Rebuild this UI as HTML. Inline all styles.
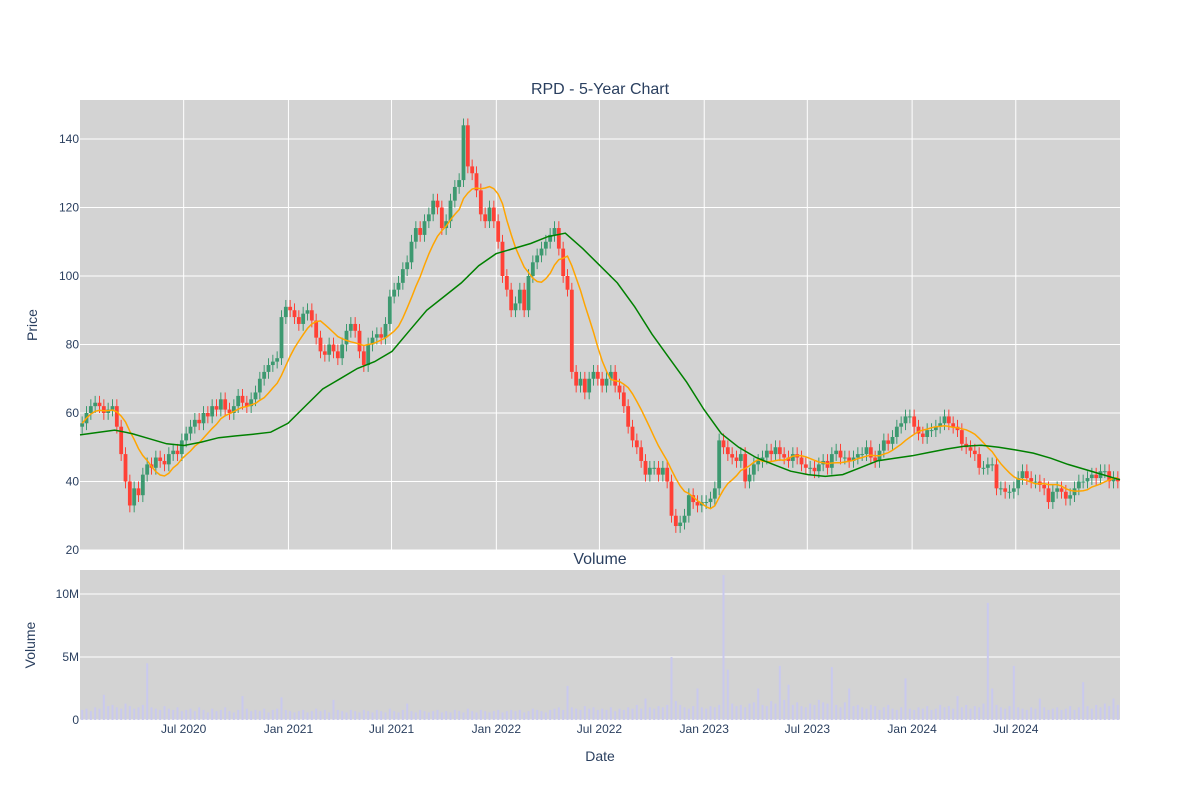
<!DOCTYPE html>
<html><head><meta charset="utf-8"><style>
html,body{margin:0;padding:0;background:#fff;}
svg{display:block;font-family:"Liberation Sans",sans-serif;}
</style></head><body>
<svg id="chart" width="1200" height="800" viewBox="0 0 1200 800" xmlns="http://www.w3.org/2000/svg">
<rect x="0" y="0" width="1200" height="800" fill="#fff"/>
<rect x="80" y="100" width="1040" height="450" fill="#d3d3d3"/>
<rect x="80" y="570" width="1040" height="150" fill="#d3d3d3"/>
<g id="grid"></g>
<g id="vol"></g>
<g id="candles"></g>
<g id="lines"></g>
<g id="axes" fill="#2a3f5f" font-size="12"></g>
<text x="600" y="94" text-anchor="middle" font-size="16" fill="#2a3f5f">RPD - 5-Year Chart</text>
<text x="600" y="564" text-anchor="middle" font-size="16" fill="#2a3f5f">Volume</text>
<text x="37" y="325" text-anchor="middle" font-size="14" fill="#2a3f5f" transform="rotate(-90 37 325)">Price</text>
<text x="35" y="645" text-anchor="middle" font-size="14" fill="#2a3f5f" transform="rotate(-90 35 645)">Volume</text>
<text x="600" y="761" text-anchor="middle" font-size="14" fill="#2a3f5f">Date</text>
</svg>
<script>
const closes = [
57,60,62,63, 62,60,61,62, 56,48,40,33, 38,36,42,45, 44,47,46,45, 48,49,48,52, 54,56,58,57, 60,59,62,61, 64,61,60,62, 65,63,62,64, 66,70,72,74, 75,76,88,91,
90,88,86,89, 90,87,82,78, 77,80,78,76, 80,84,86,84, 78,74,80,82, 83,82,86,94, 96,98,102,104, 110,114,112,116, 118,122,120,114, 116,122,126,128, 144,132,130,125, 118,116,120,116,
110,100,96,90, 92,96,90,100, 104,106,108,110, 112,114,108,100, 96,72,68,70, 66,70,72,70, 68,70,72,68, 66,62,56,52, 50,46,42,44, 44,42,44,40, 30,27,28,30, 36,34,33,34,
34,35,38,52, 50,48,47,46, 48,40,42,45, 46,47,49,48, 50,48,47,46, 48,47,45,44, 44,43,45,46, 44,48,49,47, 47,46,47,48, 48,50,47,46, 49,52,51,53, 56,57,59,59,
56,54,53,55, 55,56,57,59, 57,56,55,51, 50,49,48,44, 44,45,45,38, 38,37,37,38, 41,43,41,40, 40,39,38,34, 37,38,37,35, 36,38,40,40, 41,42,41,43, 43,40,41,40];
const firstOpen = 56;
const ma200 = [53.6,54.3,55,54,52.5,51,50.5,51.5,52.8,53.3,53.8,54.4,57,62,67,70,73,75,78,84,90,94,98,103,106.5,108,109.5,111.5,112.5,108,103,98,91,83,76,69,61,54,50,47,45,43,42,41.5,42,44,46,46.8,47.5,48.5,49.5,50.3,50.6,50,49.2,48.3,46.8,45,43.5,42,40.5];
const volumes = [
0.8,0.9,0.7,1.0,0.9,2.0,1.1,1.2,1.0,0.9,1.3,1.1,0.9,1.0,1.2,4.5,1.0,0.9,0.8,1.1,
0.9,0.8,1.0,0.7,0.8,0.9,0.7,1.0,0.8,0.6,0.9,0.7,0.8,1.0,0.7,0.6,0.8,1.9,0.9,0.7,
0.8,0.7,0.9,0.6,0.8,0.9,1.8,0.8,0.7,0.6,0.7,0.8,0.6,0.7,0.9,0.7,0.8,0.6,1.6,0.8,
0.7,0.6,0.8,0.7,0.6,0.8,0.7,0.6,0.8,0.7,0.6,0.9,0.7,0.6,0.8,1.3,0.7,0.6,0.8,0.7,
0.6,0.7,0.8,0.6,0.7,0.6,0.8,0.7,0.6,0.9,0.7,0.6,0.8,0.7,0.6,0.7,0.8,0.6,0.7,0.8,
0.7,0.8,0.6,0.7,0.9,0.8,0.7,0.6,0.8,0.9,1.0,0.8,2.7,1.0,0.9,0.8,1.1,0.9,1.0,0.8,
0.9,0.8,1.0,0.7,0.9,0.8,1.0,0.9,1.2,0.9,1.7,1.0,0.9,1.1,1.0,1.2,5.0,1.5,1.2,1.0,
0.9,1.1,2.5,1.0,0.9,1.1,1.0,1.2,11.5,4.0,1.3,1.1,1.2,1.0,1.3,1.4,2.5,1.2,1.1,1.5,
1.3,4.3,1.6,2.8,1.2,1.4,1.1,1.0,1.3,1.2,1.6,1.4,1.3,4.2,1.2,1.0,1.4,2.5,1.1,1.2,
1.0,0.9,1.2,1.1,0.8,1.0,1.2,0.9,0.8,1.0,3.3,0.9,0.8,1.0,0.9,1.1,0.8,0.9,1.2,1.0,
1.1,0.9,1.9,1.0,1.2,0.9,1.1,1.0,1.3,9.3,2.5,1.2,1.0,0.9,1.1,4.3,1.0,0.9,0.8,1.0,
0.9,1.7,1.0,0.8,0.9,1.0,0.8,0.9,1.1,0.8,1.0,3.0,1.1,0.9,1.2,1.0,1.3,1.1,1.7,1.2];
const priceTicks = [20,40,60,80,100,120,140];
const volTicks = [0,5,10];
const volTickLabels = ["0","5M","10M"];
const dateTicks = ["2020-07-01","2021-01-01","2021-07-01","2022-01-01","2022-07-01","2023-01-01","2023-07-01","2024-01-01","2024-07-01"];
const dateTickLabels = ["Jul 2020","Jan 2021","Jul 2021","Jan 2022","Jul 2022","Jan 2023","Jul 2023","Jan 2024","Jul 2024"];
const startDate = "2020-01-01", endDate = "2024-12-31";

const NS = "http://www.w3.org/2000/svg";
const t0 = Date.parse(startDate), t1 = Date.parse(endDate);
const xOf = t => 80 + (t - t0) / (t1 - t0) * 1040;
const yP = v => 550 - (v - 20) * 3.425;
const yV = v => 720 - v * 12.6;
const stepT = (t1 - t0) / closes.length;
const tOfIdx = i => t0 + (i + 0.5) * stepT;
function mk(tag, attrs, parent){const e=document.createElementNS(NS,tag);for(const k in attrs)e.setAttribute(k,attrs[k]);parent.appendChild(e);return e;}

const grid = document.getElementById('grid');
priceTicks.forEach(v=>{
  const l=mk('line',{x1:80,x2:1120,y1:yP(v),y2:yP(v),stroke:'#fff','stroke-width':1},grid);
  
  
});
volTicks.forEach(v=>{
  const l=mk('line',{x1:80,x2:1120,y1:yV(v),y2:yV(v),stroke:'#fff','stroke-width':1},grid);
  
  
});
dateTicks.forEach(d=>{
  const x=xOf(Date.parse(d));
  const l=mk('line',{x1:x,x2:x,y1:100,y2:550,stroke:'#fff','stroke-width':1},grid);
  
  
});

const vol = document.getElementById('vol');
volumes.forEach((v,i)=>{
  const x=xOf(tOfIdx(i));
  const r=mk('rect',{x:x-1,y:yV(v),width:2,height:720-yV(v),fill:'#c9c9ee'},vol);
  
  
});

const cg = document.getElementById('candles');
closes.forEach((c,i)=>{
  const o = i===0 ? firstOpen : closes[i-1];
  const x = xOf(tOfIdx(i));
  const up = c >= o;
  const col = up ? '#3D9970' : '#FF4136';
  const hi = Math.max(o,c)+2, lo = Math.min(o,c)-2;
  const g = mk('g',{},cg);
  
  
  mk('line',{x1:x,x2:x,y1:yP(hi),y2:yP(lo),stroke:col,'stroke-width':1},g);
  const top=yP(Math.max(o,c)), bot=yP(Math.min(o,c));
  mk('rect',{x:x-1.9,y:top,width:3.8,height:Math.max(1,bot-top),fill:col},g);
});

const lg = document.getElementById('lines');
const ma50 = closes.map((c,i)=>{const s=closes.slice(Math.max(0,i-9),i+1);return s.reduce((a,b)=>a+b,0)/s.length;});
const pOrange = ma50.map((v,i)=>xOf(tOfIdx(i)).toFixed(1)+','+yP(v).toFixed(1)).join(' ');
const po = mk('polyline',{points:pOrange,fill:'none',stroke:'orange','stroke-width':1.5},lg);


const pGreen = ma200.map((v,i)=>xOf(t0+i*(t1-t0)/(ma200.length-1)).toFixed(1)+','+yP(v).toFixed(1)).join(' ');
const pg = mk('polyline',{points:pGreen,fill:'none',stroke:'green','stroke-width':1.5},lg);



const ax = document.getElementById('axes');
priceTicks.forEach(v=>{
  const t=mk('text',{x:79,y:yP(v)+4,'text-anchor':'end'},ax);
  t.textContent=v;
  
  
});
volTicks.forEach((v,i)=>{
  const t=mk('text',{x:79,y:yV(v)+4,'text-anchor':'end'},ax);
  t.textContent=volTickLabels[i];
  
  
});
dateTicks.forEach((d,i)=>{
  const t=mk('text',{x:xOf(Date.parse(d)),y:733,'text-anchor':'middle'},ax);
  t.textContent=dateTickLabels[i];
  
  
});
</script>
</body></html>
